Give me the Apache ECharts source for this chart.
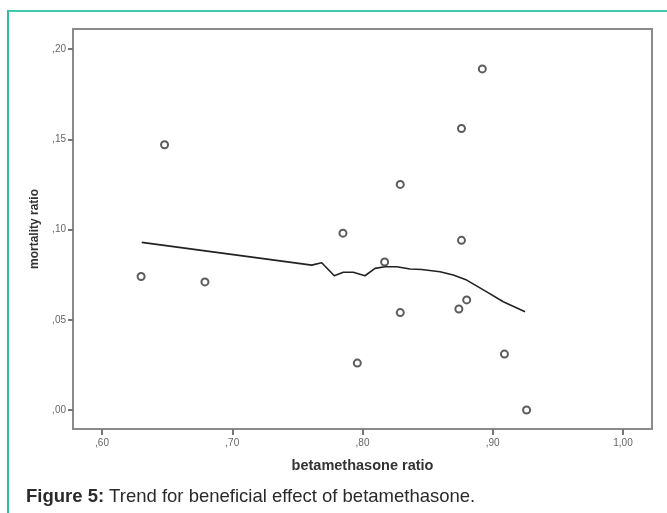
<!DOCTYPE html>
<html>
<head>
<meta charset="utf-8">
<script src="https://cdn.jsdelivr.net/npm/echarts@6/dist/echarts.min.js"></script>
<style>
  html, body { margin: 0; padding: 0; background: #fff; }
  .wrap { position: relative; width: 667px; height: 513px; }
  .frame { position: absolute; left: 7px; top: 10px; right: 0; bottom: 0;
           border-top: 2px solid #40c9b1; border-left: 2px solid #2fb9a0; }
  #chart { position: absolute; left: 0; top: 0; width: 667px; height: 513px; }
</style>
</head>
<body>
<div class="wrap">
  <div class="frame"></div>
  <div id="chart"></div>
</div>
<script>
// 散点：betamethasone ratio / mortality ratio
var betaRatio = [0.630, 0.648, 0.679, 0.785, 0.796, 0.817, 0.829, 0.829, 0.876, 0.876, 0.874, 0.880, 0.892, 0.909, 0.926];
var mortRatio = [0.074, 0.147, 0.071, 0.098, 0.026, 0.082, 0.125, 0.054, 0.156, 0.094, 0.056, 0.061, 0.189, 0.031, 0.000];
// 拟合趋势线 (loess)
var fitX = [0.6305, 0.761, 0.7687, 0.7783, 0.7853, 0.7929, 0.8019, 0.8096, 0.8173, 0.8263, 0.8365, 0.8455, 0.8595, 0.8697, 0.880, 0.8954, 0.9081, 0.9248];
var fitY = [0.0929, 0.0803, 0.0816, 0.0744, 0.0763, 0.0763, 0.0744, 0.0785, 0.0794, 0.0794, 0.0781, 0.0779, 0.0766, 0.0748, 0.0720, 0.0655, 0.0600, 0.0545];
// 刻度
var xTicks = [0.6, 0.7, 0.8, 0.9, 1.0];
var yTicks = [0.00, 0.05, 0.10, 0.15, 0.20];

function fmt(v) {
  return v.toFixed(2).replace('.', ',').replace(/^0/, '');
}

var myChart = echarts.init(document.getElementById('chart'));
var option = {
  animation: false,
  title: {
    left: 26,
    top: 487,
    padding: 0,
    text: '{b|Figure 5:} {n|Trend for beneficial effect of betamethasone.}',
    textStyle: {
      rich: {
        b: { fontFamily: 'Liberation Sans', fontWeight: 'bold', fontSize: 18.5, color: '#2a2a2a' },
        n: { fontFamily: 'Liberation Sans', fontWeight: 'normal', fontSize: 18.5, color: '#2a2a2a' }
      }
    }
  },
  grid: {
    left: 73,
    top: 29,
    right: 15,
    bottom: 84,
    show: true,
    borderColor: '#8a8a8a',
    borderWidth: 2
  },
  xAxis: {
    type: 'value',
    min: 0.5777,
    max: 1.0223,
    name: 'betamethasone ratio',
    nameLocation: 'middle',
    nameGap: 29,
    nameTextStyle: { fontFamily: 'Liberation Sans', fontWeight: 'bold', fontSize: 14.5, color: '#333' },
    axisLine: { show: false, onZero: false },
    splitLine: { show: false },
    axisTick: { show: true, length: 6, customValues: xTicks, lineStyle: { color: '#777', width: 2 } },
    axisLabel: {
      customValues: xTicks,
      margin: 9,
      fontFamily: 'Liberation Sans',
      fontSize: 10,
      color: '#666',
      formatter: fmt
    }
  },
  yAxis: {
    type: 'value',
    min: -0.0105,
    max: 0.2111,
    name: 'mortality ratio',
    nameLocation: 'middle',
    nameRotate: 90,
    nameGap: 32,
    nameTextStyle: { fontFamily: 'Liberation Sans', fontWeight: 'bold', fontSize: 12, color: '#333' },
    axisLine: { show: false, onZero: false },
    splitLine: { show: false },
    axisTick: { show: true, length: 5, customValues: yTicks, lineStyle: { color: '#777', width: 2 } },
    axisLabel: {
      customValues: yTicks,
      margin: 7,
      fontFamily: 'Liberation Sans',
      fontSize: 10,
      color: '#666',
      formatter: fmt
    }
  },
  series: [
    {
      name: 'fit',
      type: 'line',
      data: fitX.map(function (x, i) { return [x, fitY[i]]; }),
      showSymbol: false,
      smooth: false,
      lineStyle: { color: '#222', width: 1.6 },
      z: 2
    },
    {
      name: 'points',
      type: 'scatter',
      data: betaRatio.map(function (x, i) { return [x, mortRatio[i]]; }),
      symbol: 'circle',
      symbolSize: 7,
      itemStyle: { color: '#fff', borderColor: '#333', borderWidth: 2 },
      z: 3
    }
  ]
};
myChart.setOption(option);
</script>
</body>
</html>
